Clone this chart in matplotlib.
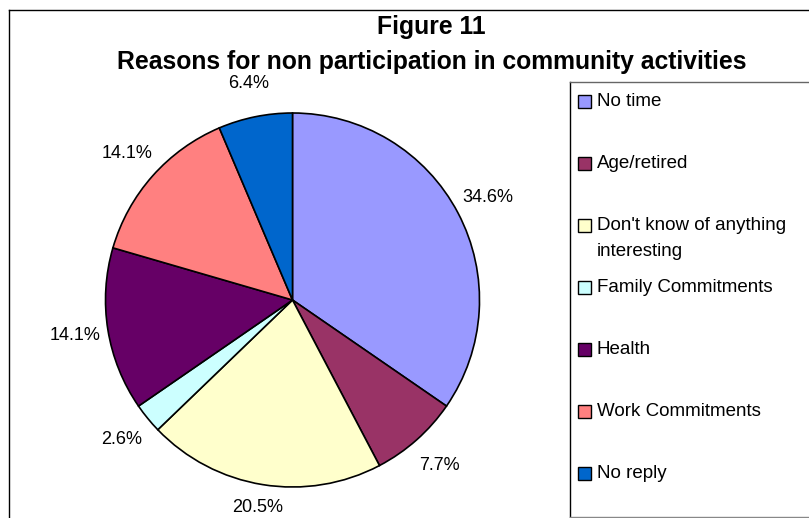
import matplotlib
matplotlib.use("Agg")
import matplotlib.pyplot as plt
from matplotlib.patches import Rectangle
from matplotlib.lines import Line2D

# ---- data ----
categories = ["No time", "Age/retired", "Don't know of anything\ninteresting",
              "Family Commitments", "Health", "Work Commitments", "No reply"]
values = [34.6, 7.7, 20.5, 2.6, 14.1, 14.1, 6.4]
colors = ["#9999FF", "#993366", "#FFFFCC", "#CCFFFF", "#660066", "#FF8080", "#0066CC"]
title_line1 = "Figure 11"
title_line2 = "Reasons for non participation in community activities"

FONT = "Liberation Sans"
W, H = 809, 518
fig = plt.figure(figsize=(W / 100, H / 100), dpi=100)
fig.patch.set_facecolor("white")


def fx(px):
    return px / W


def fy(py):
    return 1 - py / H


# outer chart border (extends beyond the image on right and bottom)
fig.add_artist(Line2D([fx(8.5), fx(8.5)], [fy(10), -0.1], color="black", lw=1.0))
fig.add_artist(Line2D([fx(8.5), 1.1], [fy(10), fy(10)], color="black", lw=1.0))

# pie
cx, cy, r = 292.5, 300, 187
ax = fig.add_axes([fx(cx - r), (H - cy - r) / H, 2 * r / W, 2 * r / H])
wedges, texts, autotexts = ax.pie(
    values, colors=colors, startangle=90, counterclock=False,
    autopct="%1.1f%%", pctdistance=1.18,
    wedgeprops=dict(edgecolor="black", linewidth=1.2),
    textprops=dict(fontsize=13, family=FONT, color="black"))
ax.set_xlim(-1, 1)
ax.set_ylim(-1, 1)
ax.set_aspect("equal")
for t in autotexts:
    t.set_clip_on(False)

# keep labels inside the figure (like the reference, where the bottom label just fits)
renderer = fig.canvas.get_renderer()
for t in autotexts:
    bb = t.get_window_extent(renderer)
    if bb.y0 < 2:
        shift_px = 2 - bb.y0
        x, y = t.get_position()
        t.set_position((x, y + shift_px / r))

# titles
fig.text(fx(431.5), fy(27), title_line1, ha="center", va="center",
         fontsize=17.8, fontweight="bold", family=FONT)
fig.text(fx(431.5), fy(62), title_line2, ha="center", va="center",
         fontsize=17.8, fontweight="bold", family=FONT)

# legend box
lx, ltop, lbot = 570, 82, 517
fig.add_artist(Rectangle((fx(lx), fy(lbot)), 1.0, (lbot - ltop) / H,
                         transform=fig.transFigure, facecolor="white",
                         edgecolor="none", zorder=1))
fig.add_artist(Line2D([fx(lx), fx(lx)], [fy(ltop), fy(lbot)], color="black", lw=1.0))
fig.add_artist(Line2D([fx(lx), 1.1], [fy(ltop), fy(ltop)], color="#666666", lw=1.0))
fig.add_artist(Line2D([fx(lx), 1.1], [fy(lbot), fy(lbot)], color="#888888", lw=1.0))

y0, step, sq = 101.5, 62, 13
line_gap = 25.7
for i, (lab, col) in enumerate(zip(categories, colors)):
    yc = y0 + step * i
    fig.add_artist(Rectangle((fx(578), fy(yc + sq / 2)), sq / W, sq / H,
                             transform=fig.transFigure, facecolor=col,
                             edgecolor="black", lw=1.0, zorder=3))
    for k, part in enumerate(lab.split("\n")):
        fig.text(fx(597), fy(yc + line_gap * k), part, ha="left", va="center",
                 fontsize=13.5, family=FONT, zorder=3)

fig.savefig("out.png", dpi=100, facecolor="white")
